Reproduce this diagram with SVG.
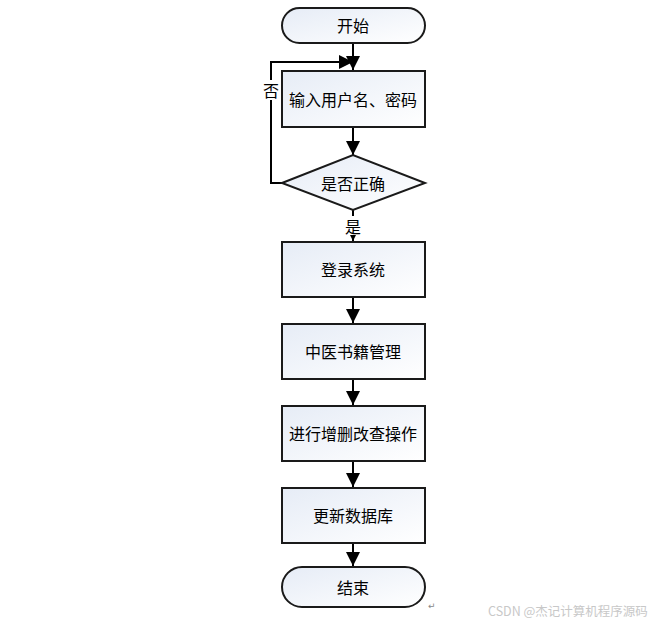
<svg xmlns="http://www.w3.org/2000/svg" width="657" height="626" viewBox="0 0 657 626">
<defs>
<linearGradient id="g" x1="0" y1="0" x2="1" y2="1">
<stop offset="0" stop-color="#e6ecf6"/>
<stop offset="1" stop-color="#ffffff"/>
</linearGradient>
<marker id="ah" viewBox="0 0 10 10" refX="10" refY="5" markerWidth="14" markerHeight="14" markerUnits="userSpaceOnUse" orient="auto">
<path d="M0,0 L10,5 L0,10 z" fill="#000"/>
</marker>
<marker id="sm" viewBox="0 0 10 10" refX="10" refY="5" markerWidth="6" markerHeight="6" markerUnits="userSpaceOnUse" orient="auto">
<path d="M0,0 L10,5 L0,10 z" fill="#000"/>
</marker>
</defs>
<style>
.n{fill:url(#g);stroke:#1a1a1a;stroke-width:2}
.t{font-family:"Noto Sans CJK SC","Noto Sans",sans-serif;font-size:16px;fill:#000;text-anchor:middle;dominant-baseline:central}
.c{stroke:#000;stroke-width:2;fill:none}
</style>
<rect width="657" height="626" fill="#fff"/>
<g id="connectors">
<line class="c" x1="353" y1="43" x2="353" y2="70" marker-end="url(#ah)"/>
<polyline class="c" points="282,183 271,183 271,62 353,62" marker-end="url(#ah)"/>
<line class="c" x1="353" y1="127" x2="353" y2="155" marker-end="url(#ah)"/>
<line class="c" x1="353" y1="210" x2="353" y2="216" stroke-width="1"/>
<line class="c" x1="353" y1="236" x2="353" y2="241" stroke-width="1" marker-end="url(#sm)"/>
<line class="c" x1="353" y1="297" x2="353" y2="323" marker-end="url(#ah)"/>
<line class="c" x1="353" y1="379" x2="353" y2="405" marker-end="url(#ah)"/>
<line class="c" x1="353" y1="461" x2="353" y2="487" marker-end="url(#ah)"/>
<line class="c" x1="353" y1="543" x2="353" y2="566" marker-end="url(#ah)"/>
<rect x="263" y="80" width="16" height="20" fill="#fff"/>
<text class="t" x="271" y="90">否</text>
<text class="t" x="353" y="226">是</text>
</g>
<g id="start"><rect class="n" x="282" y="8" width="143" height="35" rx="17.5"/><text class="t" x="353" y="25">开始</text></g>
<g id="input"><rect class="n" x="282" y="71" width="143" height="56"/><text class="t" x="353" y="99">输入用户名、密码</text></g>
<g id="check"><polygon class="n" points="282,183 353,155 425,183 353,210"/><text class="t" x="353" y="183">是否正确</text></g>
<g id="login"><rect class="n" x="282" y="242" width="143" height="55"/><text class="t" x="353" y="269">登录系统</text></g>
<g id="manage"><rect class="n" x="282" y="324" width="143" height="55"/><text class="t" x="353" y="351">中医书籍管理</text></g>
<g id="crud"><rect class="n" x="282" y="406" width="143" height="55"/><text class="t" x="353" y="433">进行增删改查操作</text></g>
<g id="update"><rect class="n" x="282" y="488" width="143" height="55"/><text class="t" x="353" y="515">更新数据库</text></g>
<g id="end"><rect class="n" x="282" y="567" width="143" height="40" rx="20"/><text class="t" x="353" y="587">结束</text></g>
<text x="428" y="609" font-family="DejaVu Sans,sans-serif" font-size="9" fill="#888">↵</text>
<text x="488" y="616" font-family="Noto Sans CJK SC,sans-serif" font-size="12.5" fill="#c8c8c8">CSDN @杰记计算机程序源码</text>
</svg>
